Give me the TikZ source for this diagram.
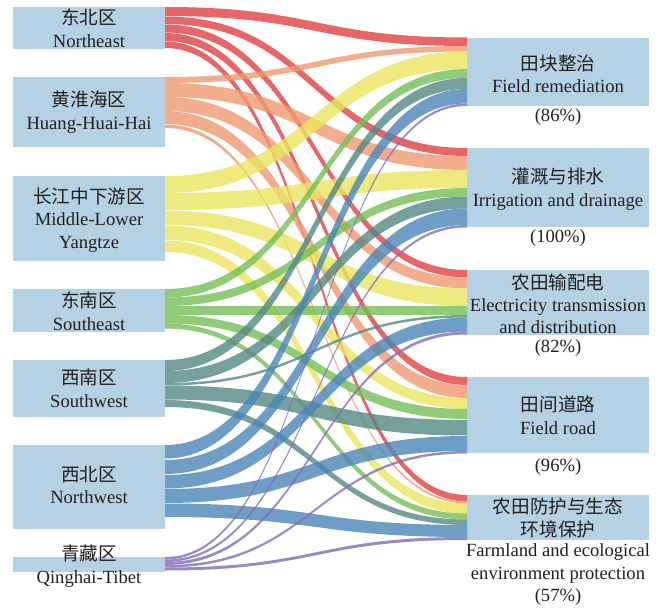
\documentclass[tikz,border=0pt]{standalone}
\usepackage{fontspec}
\setmainfont{Liberation Serif}
\newfontfamily\cjk{Noto Sans CJK SC}
\definecolor{nodeblue}{RGB}{180,210,228}
\definecolor{txt}{RGB}{35,31,32}
\definecolor{cNE}{RGB}{226,64,66}
\definecolor{cHH}{RGB}{239,154,111}
\definecolor{cMY}{RGB}{234,229,96}
\definecolor{cSE}{RGB}{116,191,86}
\definecolor{cSW}{RGB}{84,136,131}
\definecolor{cNW}{RGB}{74,134,184}
\definecolor{cQT}{RGB}{129,109,186}
\newcommand\flowband[7]{\fill[#1,band] (#2.east |- 0,#3) .. controls (316,#3) and (316,#6) .. (#5.west |- 0,#6) -- (#5.west |- 0,#7) .. controls (316,#7) and (316,#4) .. (#2.east |- 0,#4) -- cycle;}
\begin{document}
\begin{tikzpicture}[x=1pt,y=-1pt,
 box/.style={rectangle,fill=nodeblue,draw=none,inner sep=0pt,outer sep=0pt},
 lbox/.style={box,minimum width=152pt},
 rbox/.style={box,minimum width=182pt},
 lbl/.style={font=\fontsize{18.6}{22.5}\selectfont,align=center,text=txt,inner sep=0pt},
 band/.style={fill opacity=0.8}]
\useasboundingbox (0,0) rectangle (661,609);
% left nodes
\node[lbox,minimum height=42pt] (ne) at (89,28) {};
\node[lbox,minimum height=70pt] (hhh) at (89,112) {};
\node[lbox,minimum height=85pt] (mly) at (89,218.5) {};
\node[lbox,minimum height=43pt] (se) at (89,310.5) {};
\node[lbox,minimum height=57pt] (sw) at (89,388.5) {};
\node[lbox,minimum height=84pt] (nw) at (89,487) {};
\node[lbox,minimum height=15pt] (qt) at (89,564.5) {};
% right nodes
\node[rbox,minimum height=68pt] (fr) at (558,72) {};
\node[rbox,minimum height=79pt] (id) at (558,187.5) {};
\node[rbox,minimum height=65pt] (el) at (558,302.5) {};
\node[rbox,minimum height=76pt] (frd) at (558,415) {};
\node[rbox,minimum height=45pt] (fp) at (558,517.5) {};
% flows: Northeast
\flowband{cNE}{ne}{7}{16}{fr}{37.5}{46}
\flowband{cNE}{ne}{16.5}{24}{id}{148}{156}
\flowband{cNE}{ne}{24.5}{32.5}{el}{270}{277.5}
\flowband{cNE}{ne}{33}{41}{frd}{377}{385}
\flowband{cNE}{ne}{41.5}{48}{fp}{495}{501.5}
% Huang-Huai-Hai
\flowband{cHH}{hhh}{77}{83}{fr}{46}{51.5}
\flowband{cHH}{hhh}{83}{97}{id}{156}{170}
\flowband{cHH}{hhh}{97}{111}{el}{277.5}{288.5}
\flowband{cHH}{hhh}{111}{124}{frd}{385}{398}
\flowband{cHH}{hhh}{124.5}{128}{fp}{501.5}{503.5}
% Middle-Lower Yangtze
\flowband{cMY}{mly}{176}{193}{fr}{51.5}{69}
\flowband{cMY}{mly}{193}{210}{id}{170}{188}
\flowband{cMY}{mly}{210.5}{225}{el}{288.5}{306}
\flowband{cMY}{mly}{225.5}{240}{frd}{398}{409}
\flowband{cMY}{mly}{240.5}{252}{fp}{503.5}{513.5}
% Southeast
\flowband{cSE}{se}{289}{297.5}{fr}{69}{78}
\flowband{cSE}{se}{297.5}{306}{id}{188}{196.5}
\flowband{cSE}{se}{306}{315}{el}{306}{315}
\flowband{cSE}{se}{315}{323.5}{frd}{409}{419}
\flowband{cSE}{se}{323.5}{328.5}{fp}{513.5}{519.5}
% Southwest
\flowband{cSW}{sw}{360}{371}{fr}{78}{89}
\flowband{cSW}{sw}{371}{383}{id}{196.5}{208.5}
\flowband{cSW}{sw}{383}{385.5}{el}{315}{317.5}
\flowband{cSW}{sw}{385.5}{399.5}{frd}{420}{435.5}
\flowband{cSW}{sw}{400}{407}{fp}{519.5}{525}
% Northwest
\flowband{cNW}{nw}{445}{458.5}{fr}{89}{103.5}
\flowband{cNW}{nw}{460}{474}{id}{208.5}{225}
\flowband{cNW}{nw}{475}{488.5}{el}{317.5}{331.5}
\flowband{cNW}{nw}{489}{503}{frd}{436}{451}
\flowband{cNW}{nw}{503.5}{517}{fp}{525}{537}
% Qinghai-Tibet
\flowband{cQT}{qt}{557}{559.5}{fr}{103.5}{106}
\flowband{cQT}{qt}{559.5}{562}{id}{225}{227.5}
\flowband{cQT}{qt}{562}{565}{el}{331.5}{334.5}
\flowband{cQT}{qt}{565}{567.5}{frd}{451}{453.5}
\flowband{cQT}{qt}{567.5}{570.5}{fp}{537}{540}
% left labels
\node[lbl] (lne) at (89,28) {{\cjk 东北区}\\Northeast};
\node[lbl] (lhhh) at (89,112) {{\cjk 黄淮海区}\\Huang-Huai-Hai};
\node[lbl] (lmly) at (89,220) {{\cjk 长江中下游区}\\Middle-Lower\\Yangtze};
\node[lbl] (lse) at (89,311) {{\cjk 东南区}\\Southeast};
\node[lbl] (lsw) at (89,388.5) {{\cjk 西南区}\\Southwest};
\node[lbl] (lnw) at (89,485) {{\cjk 西北区}\\Northwest};
\node[lbl] (lqt) at (89,566) {{\cjk 青藏区}\\Qinghai-Tibet};
% right labels
\node[lbl] (lfr) at (558,74) {{\cjk 田块整治}\\Field remediation};
\node[lbl] (pfr) at (558,117) {(86\%)};
\node[lbl] (lid) at (558,189) {{\cjk 灌溉与排水}\\Irrigation and drainage};
\node[lbl] (pid) at (558,238) {(100\%)};
\node[lbl,font=\fontsize{18.6}{22}\selectfont] (lel) at (558,304) {{\cjk 农田输配电}\\Electricity transmission\\and distribution};
\node[lbl] (pel) at (558,348.5) {(82\%)};
\node[lbl] (lfrd) at (558,415) {{\cjk 田间道路}\\Field road};
\node[lbl] (pfrd) at (558,467) {(96\%)};
\node[lbl] (lfp) at (558,518) {{\cjk 农田防护与生态}\\{\cjk 环境保护}};
\node[lbl] (efp) at (558,575) {Farmland and ecological\\environment protection\\(57\%)};
\end{tikzpicture}
\end{document}
